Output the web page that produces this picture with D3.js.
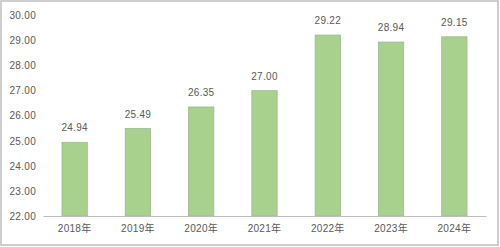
<!DOCTYPE html>
<html>
<head>
<meta charset="utf-8">
<style>
  body { margin: 0; background: #fff; }
  text { font-family: "Liberation Sans", "Noto Sans CJK SC", sans-serif; fill: #595959; font-size: 10px; letter-spacing: 0.3px; }
</style>
</head>
<body>
<div id="chart"></div>
<script src="https://d3js.org/d3.v7.min.js"></script>
<script>
  // data
  var years = ["2018年", "2019年", "2020年", "2021年", "2022年", "2023年", "2024年"];
  var values = [24.94, 25.49, 26.35, 27.00, 29.22, 28.94, 29.15];
  var yTicks = [22, 23, 24, 25, 26, 27, 28, 29, 30];

  var W = 500, H = 247;
  var margin = { top: 15.5, right: 14, bottom: 31, left: 43 };
  var width = W - margin.left - margin.right,
      height = H - margin.top - margin.bottom;

  var svg = d3.select("#chart").append("svg")
    .attr("width", W)
    .attr("height", H);

  // outer frame
  svg.append("rect")
    .attr("x", 1).attr("y", 1)
    .attr("width", W - 3).attr("height", H - 3)
    .attr("fill", "#fff")
    .attr("stroke", "#bfbfbf")
    .attr("stroke-width", 1.5);

  var g = svg.append("g")
    .attr("transform", "translate(" + margin.left + "," + margin.top + ")");

  var x = d3.scaleBand()
    .domain(years)
    .range([0, width])
    .paddingInner(0.6)
    .paddingOuter(0.3);

  var y = d3.scaleLinear()
    .domain([22, 30])
    .range([height, 0]);

  // y axis labels (no line)
  var yAxis = g.append("g")
    .call(d3.axisLeft(y).tickValues(yTicks).tickFormat(d3.format(".2f")).tickSize(0).tickPadding(7));
  yAxis.select(".domain").remove();
  yAxis.selectAll("text").style("fill", "#595959").style("font-size", "10px");

  // bars
  g.selectAll(".bar")
    .data(values)
    .enter().append("rect")
    .attr("class", "bar")
    .attr("x", function(d, i) { return x(years[i]); })
    .attr("width", x.bandwidth())
    .attr("y", function(d) { return y(d); })
    .attr("height", function(d) { return height - y(d); })
    .attr("fill", "#a9d18e")
    .attr("stroke", "#9fb891")
    .attr("stroke-width", 0.8);

  // value labels
  g.selectAll(".lbl")
    .data(values)
    .enter().append("text")
    .attr("class", "lbl")
    .attr("x", function(d, i) { return x(years[i]) + x.bandwidth() / 2; })
    .attr("y", function(d) { return y(d) - 11; })
    .attr("text-anchor", "middle")
    .text(function(d) { return d.toFixed(2); });

  // x axis
  var xAxis = g.append("g")
    .attr("transform", "translate(0," + height + ")")
    .call(d3.axisBottom(x).tickSize(0).tickPadding(9));
  xAxis.select(".domain").attr("stroke", "#bfbfbf");
  xAxis.selectAll("text").style("fill", "#595959").style("font-size", "10px");
</script>
</body>
</html>
